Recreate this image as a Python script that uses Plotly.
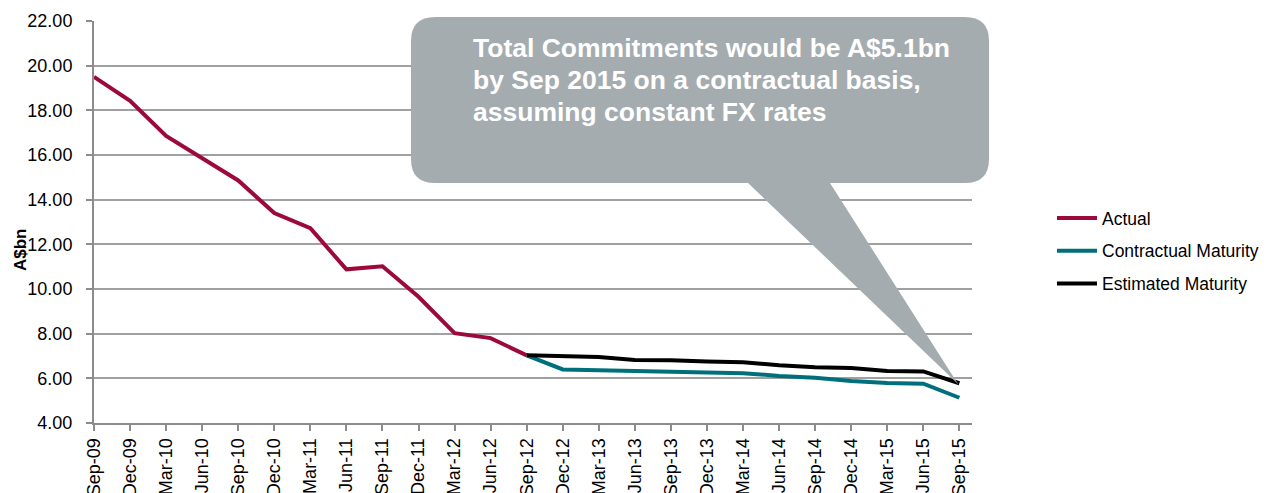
import plotly.graph_objects as go

categories = ["Sep-09", "Dec-09", "Mar-10", "Jun-10", "Sep-10", "Dec-10", "Mar-11", "Jun-11",
              "Sep-11", "Dec-11", "Mar-12", "Jun-12", "Sep-12", "Dec-12", "Mar-13", "Jun-13",
              "Sep-13", "Dec-13", "Mar-14", "Jun-14", "Sep-14", "Dec-14", "Mar-15", "Jun-15", "Sep-15"]

actual_cats = categories[:13]
actual_vals = [19.5, 18.43, 16.85, 15.88, 14.86, 13.4, 12.72, 10.88, 11.02, 9.65, 8.02, 7.8, 7.03]

proj_cats = categories[12:]
contractual_vals = [7.03, 6.4, 6.36, 6.33, 6.29, 6.24, 6.23, 6.11, 6.03, 5.88, 5.79, 5.76, 5.13]
estimated_vals = [7.03, 6.98, 6.95, 6.82, 6.81, 6.75, 6.72, 6.59, 6.5, 6.46, 6.33, 6.31, 5.78]

y_ticks = [4, 6, 8, 10, 12, 14, 16, 18, 20, 22]

callout_lines = ["Total Commitments would be A$5.1bn",
                 "by Sep 2015 on a contractual basis,",
                 "assuming constant FX rates"]

# page body has an 8px margin, so the figure is drawn offset by 8px
OFF = 8
W, H = 1272 - OFF, 493 - OFF
ML, MT = 94 - OFF, 21 - OFF
PW, PH = 878, 402
MR, MB = W - ML - PW, H - MT - PH


def px(x):
    return (x - OFF - ML) / PW


def py(y):
    return (MT + PH - (y - OFF)) / PH


FONT = "Liberation Sans, Arial, sans-serif"

fig = go.Figure()
fig.add_trace(go.Scatter(x=actual_cats, y=actual_vals, mode="lines", name="Actual",
                         line=dict(color="#9C0A3C", width=4), legendgroup="a"))
fig.add_trace(go.Scatter(x=proj_cats, y=contractual_vals, mode="lines", name="Contractual Maturity",
                         line=dict(color="#006F7C", width=4), legendgroup="b"))
fig.add_trace(go.Scatter(x=proj_cats, y=estimated_vals, mode="lines", name="Estimated Maturity",
                         line=dict(color="#000000", width=4), legendgroup="c"))

# callout shape (rounded rectangle with pointer)
x0, x1, y0, y1, r = 411, 989, 17, 183, 24
bx0, bx1 = 748, 830
tip = (958, 384)
path = (
    f"M {px(x0 + r)},{py(y0)} L {px(x1 - r)},{py(y0)} "
    f"Q {px(x1)},{py(y0)} {px(x1)},{py(y0 + r)} "
    f"L {px(x1)},{py(y1 - r)} "
    f"Q {px(x1)},{py(y1)} {px(x1 - r)},{py(y1)} "
    f"L {px(bx1)},{py(y1)} L {px(tip[0])},{py(tip[1])} L {px(bx0)},{py(y1)} "
    f"L {px(x0 + r)},{py(y1)} "
    f"Q {px(x0)},{py(y1)} {px(x0)},{py(y1 - r)} "
    f"L {px(x0)},{py(y0 + r)} "
    f"Q {px(x0)},{py(y0)} {px(x0 + r)},{py(y0)} Z"
)
fig.add_shape(type="path", path=path, xref="paper", yref="paper",
              fillcolor="#A5ACB0", line=dict(width=0), layer="above")

for i, t in enumerate(callout_lines):
    fig.add_annotation(text=f"<b>{t}</b>", x=px(471), y=py(48 + 32 * i), xref="paper", yref="paper",
                       xanchor="left", yanchor="middle", showarrow=False,
                       font=dict(family=FONT, size=26.5, color="white"))

# y-axis title
fig.add_annotation(text="<b>A$bn</b>", x=px(20), y=py(250), xref="paper", yref="paper",
                   xanchor="center", yanchor="middle", textangle=-90, showarrow=False,
                   font=dict(family=FONT, size=17, color="black"))

fig.update_layout(
    width=W, height=H,
    margin=dict(l=ML, r=MR, t=MT, b=MB, autoexpand=False),
    paper_bgcolor="white", plot_bgcolor="white",
    font=dict(family=FONT, size=16, color="#000000"),
    showlegend=True,
    legend=dict(x=px(1052), y=py(251), xanchor="left", yanchor="middle",
                font=dict(family=FONT, size=17.5), tracegroupgap=7,
                itemwidth=40, bgcolor="rgba(0,0,0,0)"),
    xaxis=dict(type="category", categoryorder="array", categoryarray=categories,
               range=[0, 24.35], tickangle=-90, showgrid=False, automargin=False,
               showline=True, linecolor="#8C8C8C", linewidth=2,
               ticks="outside", ticklen=6, tickcolor="#8C8C8C", tickwidth=1.5,
               tickfont=dict(family=FONT, size=18), zeroline=False),
    yaxis=dict(range=[4, 22], tickvals=y_ticks, tickformat=".2f", automargin=False,
               showgrid=True, gridcolor="#A0A0A0", gridwidth=1.5,
               showline=True, linecolor="#8C8C8C", linewidth=2,
               ticks="outside", ticklen=6, tickcolor="#8C8C8C", tickwidth=1.5,
               ticklabelstandoff=10,
               tickfont=dict(family=FONT, size=18), zeroline=False),
)

fig.write_html("out.html")
